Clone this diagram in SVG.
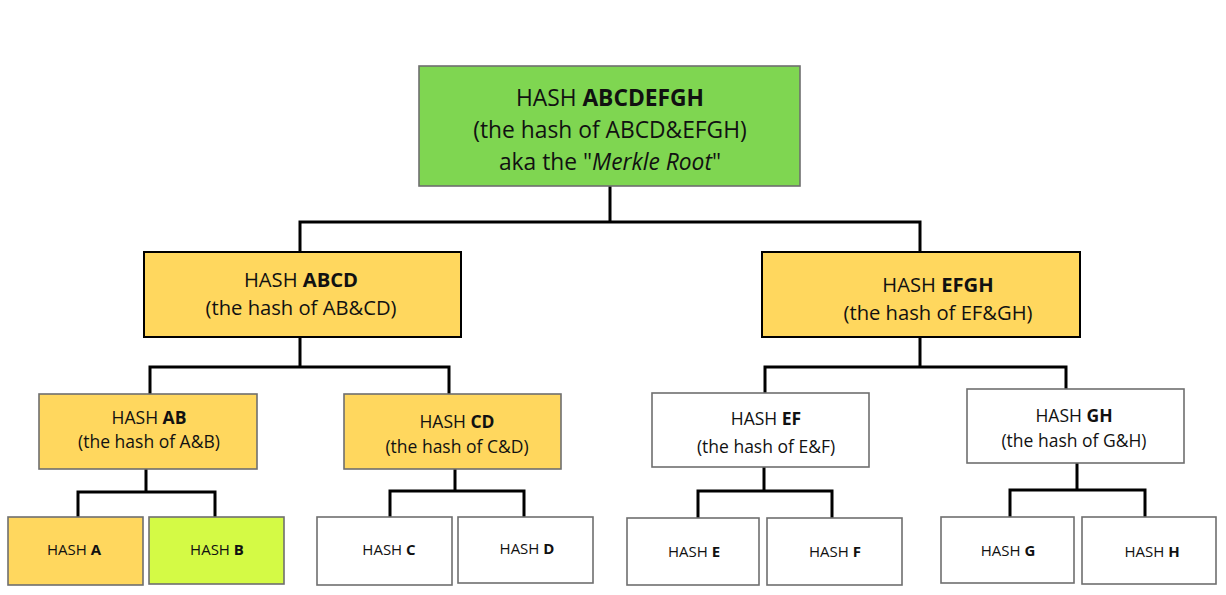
<svg xmlns="http://www.w3.org/2000/svg" width="1226" height="595" viewBox="0 0 1226 595">
<style>
text{font-family:"Open Sans","Noto Sans","DejaVu Sans",sans-serif;fill:#111;text-anchor:middle}
.b{font-weight:bold}
.gray{stroke:#6f6f6f;stroke-width:1.6}
.blk{stroke:#000;stroke-width:2}
.w{fill:#fff}
.y{fill:#ffd75e}
.t0{font-size:22.8px}
.t1{font-size:20.2px}
.t2{font-size:17.5px}
.t3{font-size:15px}
#connectors path{fill:none;stroke:#000;stroke-width:3}
</style>
<rect width="1226" height="595" fill="#fff"/>
<g id="connectors">
<path d="M610 186V222M300 252V222H920V252"/>
<path d="M300 337V367M150 394V367H449V394"/>
<path d="M920 337V367M765 393V367H1066V389"/>
<path d="M146 469V492M78 517V492H215V517"/>
<path d="M455 469V491M390 517V491H524V517"/>
<path d="M764 467V491M698 518V491H832V518"/>
<path d="M1077 463V490M1010 517V490H1145V517"/>
</g>
<g id="root">
<rect x="419" y="66" width="381" height="120" fill="#7fd651" class="gray"/>
<text class="t0" x="610" y="106">HASH <tspan class="b">ABCDEFGH</tspan></text>
<text class="t0" x="610" y="138">(the hash of ABCD&amp;EFGH)</text>
<text class="t0" x="610" y="170">aka the "<tspan font-style="italic">Merkle Root</tspan>"</text>
</g>
<g id="abcd">
<rect x="144" y="252" width="317" height="85" class="y blk"/>
<text class="t1" x="301" y="287">HASH <tspan class="b">ABCD</tspan></text>
<text class="t1" x="301" y="315">(the hash of AB&amp;CD)</text>
</g>
<g id="efgh">
<rect x="762" y="252" width="318" height="85" class="y blk"/>
<text class="t1" x="938" y="292">HASH <tspan class="b">EFGH</tspan></text>
<text class="t1" x="938" y="320">(the hash of EF&amp;GH)</text>
</g>
<g id="ab">
<rect x="39" y="394" width="218" height="75" class="y gray"/>
<text class="t2" x="149" y="424">HASH <tspan class="b">AB</tspan></text>
<text class="t2" x="149" y="448">(the hash of A&amp;B)</text>
</g>
<g id="cd">
<rect x="344" y="394" width="217" height="75" class="y gray"/>
<text class="t2" x="457" y="428">HASH <tspan class="b">CD</tspan></text>
<text class="t2" x="457" y="453">(the hash of C&amp;D)</text>
</g>
<g id="ef">
<rect x="652" y="393" width="217" height="74" class="w gray"/>
<text class="t2" x="766" y="425">HASH <tspan class="b">EF</tspan></text>
<text class="t2" x="766" y="453">(the hash of E&amp;F)</text>
</g>
<g id="gh">
<rect x="967" y="389" width="217" height="74" class="w gray"/>
<text class="t2" x="1074" y="422">HASH <tspan class="b">GH</tspan></text>
<text class="t2" x="1074" y="447">(the hash of G&amp;H)</text>
</g>
<g id="a">
<rect x="8" y="517" width="135" height="68" class="y gray"/>
<text class="t3" x="74" y="555">HASH <tspan class="b">A</tspan></text>
</g>
<g id="b">
<rect x="149" y="517" width="135" height="67" fill="#d4fa45" class="gray"/>
<text class="t3" x="217" y="555">HASH <tspan class="b">B</tspan></text>
</g>
<g id="c">
<rect x="317" y="517" width="135" height="68" class="w gray"/>
<text class="t3" x="389" y="555">HASH <tspan class="b">C</tspan></text>
</g>
<g id="d">
<rect x="458" y="517" width="135" height="66" class="w gray"/>
<text class="t3" x="527" y="554">HASH <tspan class="b">D</tspan></text>
</g>
<g id="e">
<rect x="627" y="518" width="132" height="67" class="w gray"/>
<text class="t3" x="694" y="557">HASH <tspan class="b">E</tspan></text>
</g>
<g id="f">
<rect x="767" y="518" width="135" height="67" class="w gray"/>
<text class="t3" x="835" y="557">HASH <tspan class="b">F</tspan></text>
</g>
<g id="g">
<rect x="941" y="517" width="133" height="66" class="w gray"/>
<text class="t3" x="1008" y="556">HASH <tspan class="b">G</tspan></text>
</g>
<g id="h">
<rect x="1082" y="517" width="134" height="67" class="w gray"/>
<text class="t3" x="1152" y="557">HASH <tspan class="b">H</tspan></text>
</g>
</svg>
